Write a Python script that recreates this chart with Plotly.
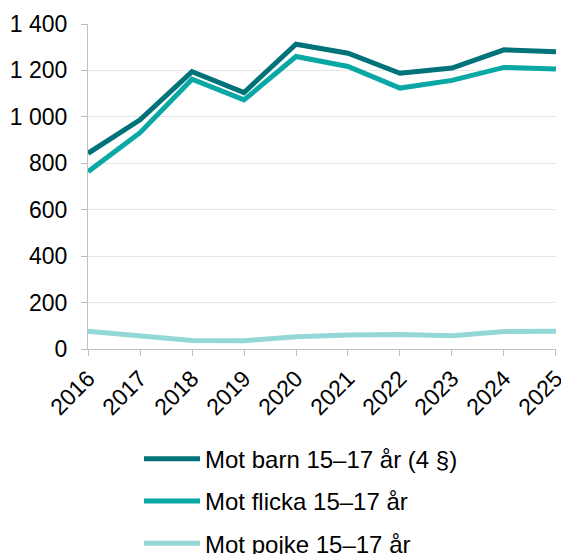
import plotly.graph_objects as go

years = [2016, 2017, 2018, 2019, 2020, 2021, 2022, 2023, 2024, 2025]
barn = [843, 987, 1195, 1105, 1313, 1274, 1188, 1210, 1289, 1280]
flicka = [764, 932, 1162, 1073, 1260, 1217, 1124, 1157, 1213, 1206]
pojke = [76, 56, 37, 36, 53, 60, 63, 57, 75, 76]
names = ["Mot barn 15–17 år (4 §)", "Mot flicka 15–17 år", "Mot pojke 15–17 år"]
colors = ["#00737A", "#0AA8A5", "#93D8D6"]
ytickvals = [0, 200, 400, 600, 800, 1000, 1200, 1400]
yticktext = ["0", "200", "400", "600", "800", "1 000", "1 200", "1 400"]

fig = go.Figure()
for i, (name, vals, col) in enumerate(zip(names, [barn, flicka, pojke], colors)):
    fig.add_trace(go.Scatter(x=years, y=vals, mode="lines", name=name,
                             legendgroup=str(i),
                             line=dict(color=col, width=5)))

font = dict(family="Liberation Sans, Arial, sans-serif", size=23, color="#000000")
legfont = dict(family="Liberation Sans, Arial, sans-serif", size=24, color="#000000")
fig.update_layout(
    width=561, height=554,
    margin=dict(l=88, r=5, t=24, b=205, autoexpand=False),
    paper_bgcolor="white", plot_bgcolor="white",
    font=font,
    showlegend=True,
    legend=dict(orientation="v", x=0.109, xanchor="left", y=-0.27, yanchor="top",
                traceorder="grouped", tracegroupgap=8, itemwidth=56,
                font=legfont, bgcolor="rgba(0,0,0,0)"),
    xaxis=dict(range=[2015.999, 2025.001], tickvals=years, ticktext=[str(y) for y in years],
               tickangle=-45, showgrid=False, showline=True, linecolor="#BFBFBF",
               linewidth=1, ticks="outside", ticklen=6, tickcolor="#BFBFBF",
               zeroline=False, tickfont=font, automargin=False,
               ticklabeloverflow="allow"),
    yaxis=dict(range=[0, 1400], tickvals=ytickvals, ticktext=yticktext,
               showgrid=True, gridcolor="#E5E5E5", gridwidth=1,
               showline=True, linecolor="#BFBFBF", linewidth=1,
               ticks="outside", ticklen=6, tickcolor="#BFBFBF",
               ticklabelstandoff=9,
               zeroline=False, tickfont=font, automargin=False),
)

fig.write_html("out.html", config={"displayModeBar": False},
               post_script="document.body.style.margin='0';document.body.style.overflow='hidden';")
